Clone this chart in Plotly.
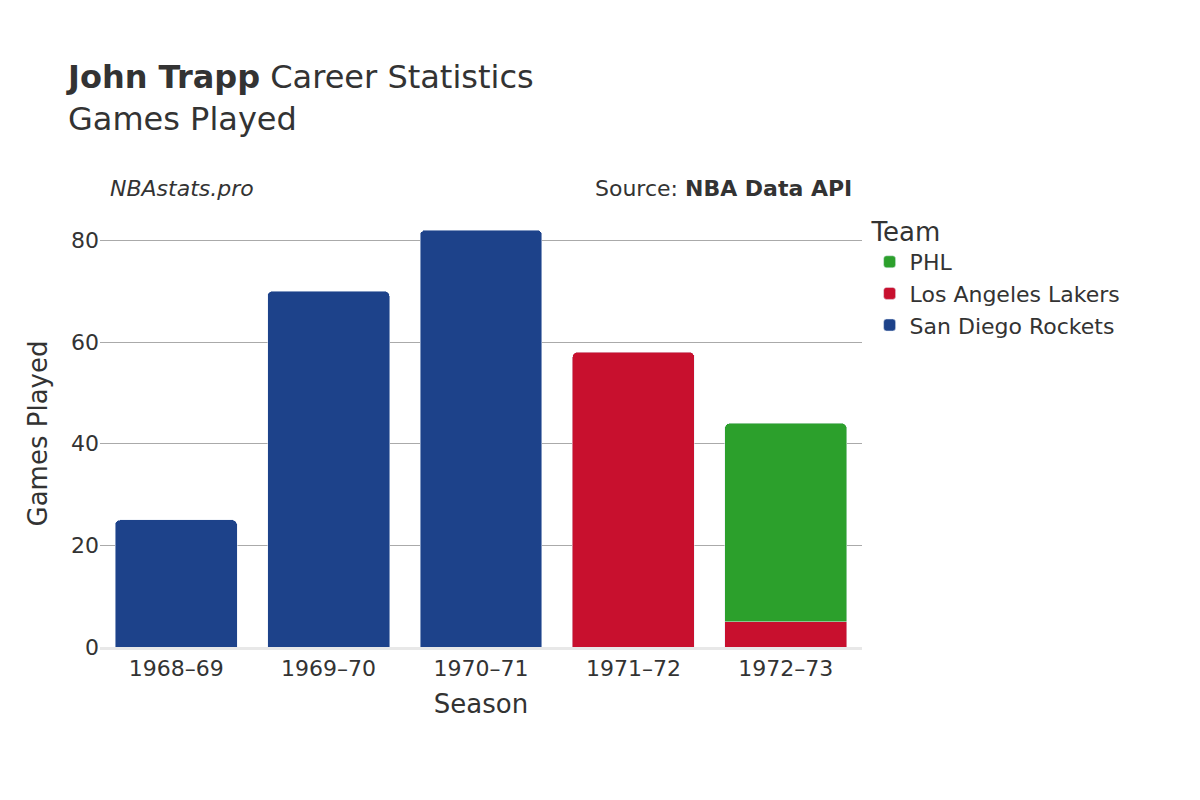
import plotly.graph_objects as go

seasons = ["1968–69", "1969–70", "1970–71", "1971–72", "1972–73"]
rockets = [25, 70, 82, None, None]
lakers = [None, None, None, 58, 5]
phl = [None, None, None, None, 39]

fig = go.Figure()
fig.add_bar(x=seasons, y=rockets, name="San Diego Rockets", marker_color="#1d428a")
fig.add_bar(x=seasons, y=lakers, name="Los Angeles Lakers", marker_color="#c8102e")
fig.add_bar(x=seasons, y=phl, name="PHL", marker_color="#2ca02c")

fig.update_layout(
    barmode="stack", barcornerradius=5, bargap=0.2,
    width=1200, height=800,
    font=dict(family="DejaVu Sans", color="#333", size=20),
    paper_bgcolor="white", plot_bgcolor="white",
    margin=dict(l=92, r=346, t=212, b=161),
    title=dict(text="<b>John Trapp</b> Career Statistics<br>Games Played",
               x=0.05, xanchor="left", y=0.9, yanchor="top", font=dict(size=32)),
    legend=dict(title=dict(text="Team", font=dict(size=26)), x=1.01, y=1.03,
                xanchor="left", yanchor="top", font=dict(size=22)),
    xaxis=dict(title=dict(text="Season", font=dict(size=26)), showline=True,
               linecolor="#e8e8e8", linewidth=3, tickfont=dict(size=22)),
    yaxis=dict(title=dict(text="Games Played", font=dict(size=26)), range=[0, 84],
               gridcolor="#aaa", tickvals=[0, 20, 40, 60, 80], tickfont=dict(size=22),
               zeroline=False),
    annotations=[
        dict(text="<i>NBAstats.pro</i>", x=0.01, y=1.04, xref="paper", yref="paper",
             xanchor="left", yanchor="bottom", showarrow=False, font=dict(size=22)),
        dict(text="Source: <b>NBA Data API</b>", x=0.99, y=1.04, xref="paper", yref="paper",
             xanchor="right", yanchor="bottom", showarrow=False, font=dict(size=22)),
    ],
)
fig.write_html("out.html")
